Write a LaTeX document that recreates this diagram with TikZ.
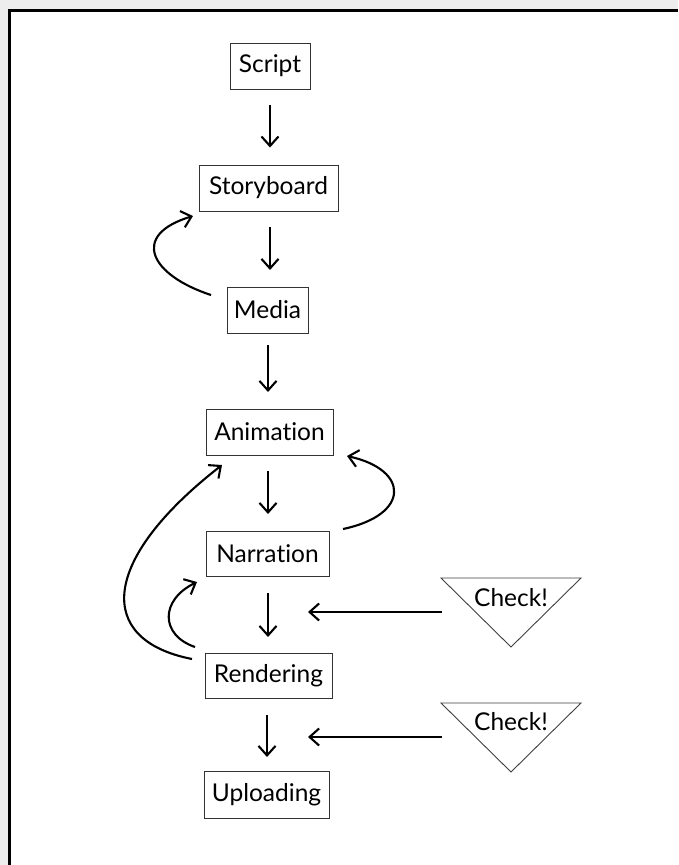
\documentclass[tikz,border=0pt]{standalone}
\usepackage{fontspec}
\setmainfont{Lato}[Ligatures=NoCommon]
\usetikzlibrary{arrows.meta}
\begin{document}
\begin{tikzpicture}[x=1pt,y=-1pt,
  stepbox/.style={draw=black!80, line width=0.9pt, inner sep=0pt, font=\fontsize{24.5}{28}\selectfont, text=black},
  flow/.style={line width=2.1pt, -{Straight Barb[length=9.5pt,width=17pt,line width=2.1pt]}},
  tri/.style={draw=black!75, line width=0.9pt},
  chk/.style={font=\fontsize{24.5}{28}\selectfont, inner sep=0pt}]
\useasboundingbox (0,0) rectangle (678,865);
\fill[black!7] (0,0) rectangle (678,865);
\fill[white] (9.5,10.5) rectangle (678,865);
\draw[line width=2.5pt] (9.5,865) -- (9.5,10.5) -- (678,10.5);

\node[stepbox, minimum width=80pt, minimum height=46pt] (script) at (270,66) {Script};
\node[stepbox, minimum width=139pt, minimum height=46pt] (story) at (268.5,188) {Storyboard};
\node[stepbox, minimum width=81pt, minimum height=46pt] (media) at (267.5,310) {Media};
\node[stepbox, minimum width=127pt, minimum height=46pt] (anim) at (269.5,432) {Animation};
\node[stepbox, minimum width=123pt, minimum height=45pt] (narr) at (267.5,553.5) {Narration};
\node[stepbox, minimum width=127pt, minimum height=45pt] (rend) at (268.5,675.5) {Rendering};
\node[stepbox, minimum width=125pt, minimum height=47pt] (upl) at (266.5,794.5) {Uploading};

% straight arrows
\draw[flow, shorten <=16pt, shorten >=17pt] (script.south) -- (script.south |- story.north);
\draw[flow, shorten <=16pt, shorten >=17pt] (270,211) -- (270,287);
\draw[flow, shorten <=12pt, shorten >=17pt] (268,333) -- (268,409);
\draw[flow, shorten <=16pt, shorten >=17pt] (268,455) -- (268,531);
\draw[flow, shorten <=17pt, shorten >=16pt] (268,576) -- (268,653);
\draw[flow, shorten <=17pt, shorten >=14pt] (267,698) -- (267,771);

% curved feedback arrows
\coordinate (m1) at (211,295);
\coordinate (s1) at (193,216);
\draw[flow] (m1) .. controls (150,275) and (130,235) .. (s1);
\coordinate (n1) at (343,529);
\coordinate (a1) at (347,456);
\draw[flow] (n1) .. controls (410,515) and (410,470) .. (a1);
\coordinate (r1) at (192,659);
\coordinate (a2) at (222,465);
\draw[flow] (r1) .. controls (95,640) and (100,560) .. (a2);
\coordinate (r2) at (195,647);
\coordinate (n2) at (197,582);
\draw[flow] (r2) .. controls (160,635) and (160,600) .. (n2);

% check triangles
\draw[tri] (441,578) -- (581,578) -- (511,647) -- cycle;
\node[chk] (chk1) at (511,598) {Check!};
\draw[tri] (441,703) -- (581,703) -- (511,772) -- cycle;
\node[chk] (chk2) at (511,722) {Check!};
\coordinate (c1) at (442,612);
\coordinate (t1) at (308,612);
\draw[flow] (c1) -- (t1);
\coordinate (c2) at (442,737);
\coordinate (t2) at (308,737);
\draw[flow] (c2) -- (t2);
\end{tikzpicture}
\end{document}
